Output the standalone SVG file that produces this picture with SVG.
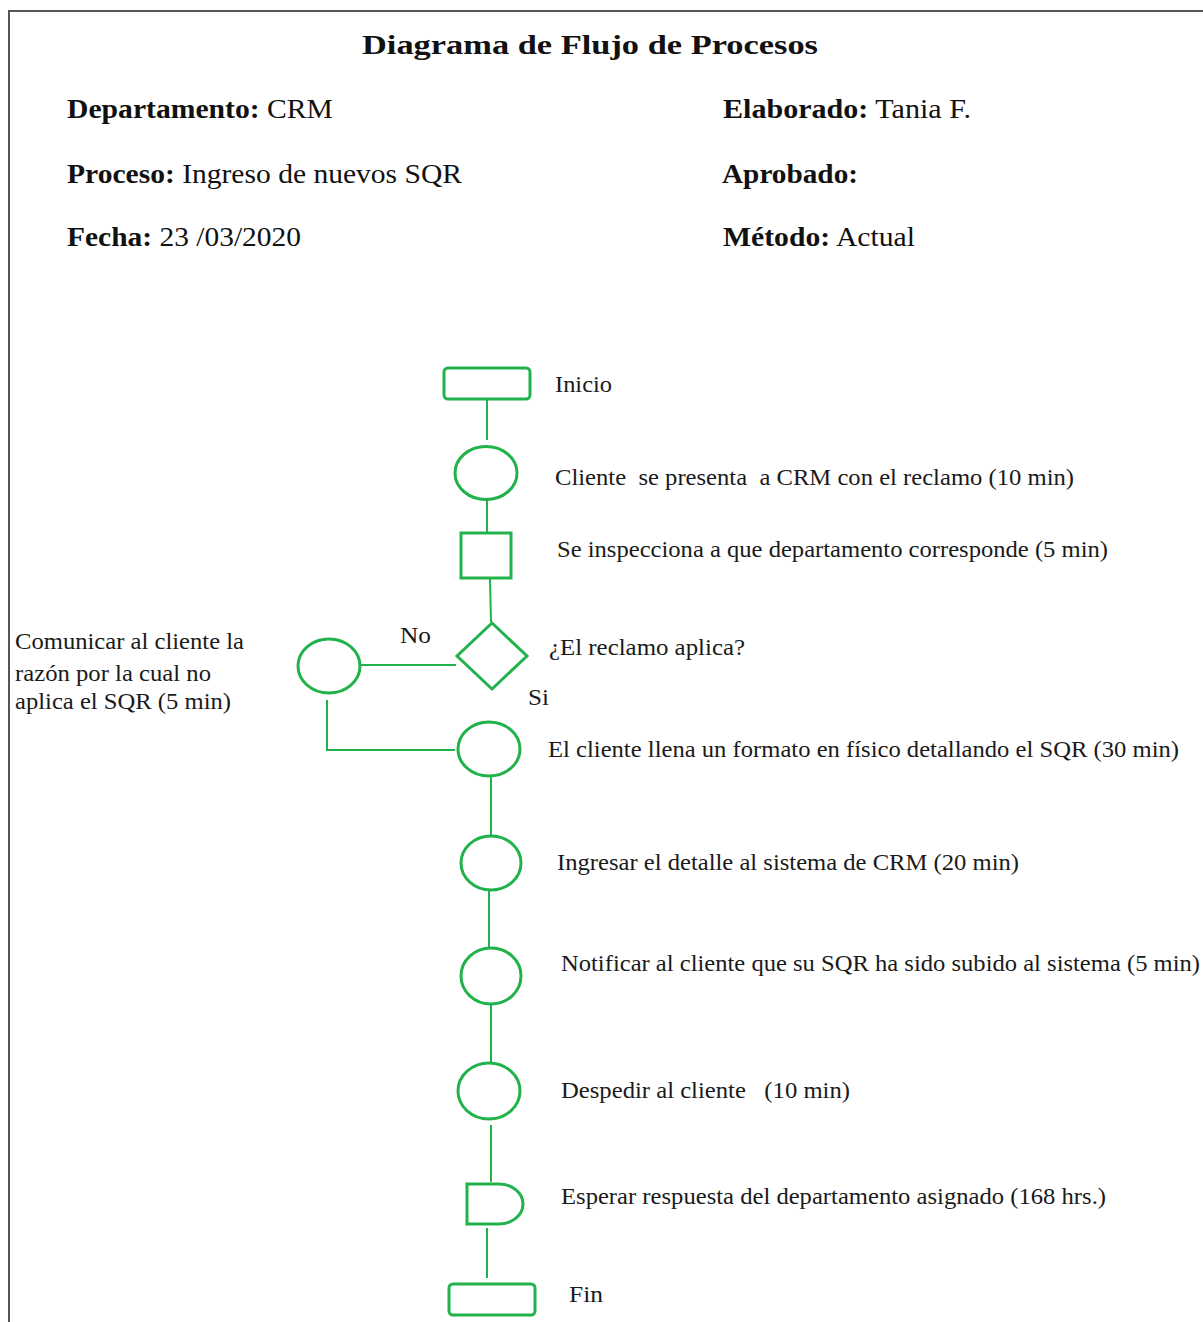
<svg xmlns="http://www.w3.org/2000/svg" width="1203" height="1322" viewBox="0 0 1203 1322" font-family="Liberation Serif">
<style>
.s{fill:none;stroke:#22b24c;stroke-width:3}
.c{fill:none;stroke:#22b24c;stroke-width:2}
.t{font-size:23px;fill:#1a1a1a}
.h{font-size:28px;fill:#111}
.b{font-weight:bold}
</style>
<rect width="1203" height="1322" fill="#fff"/>
<g id="frame" fill="none" stroke="#555" stroke-width="2">
<path d="M9,1322 V11 H1203"/>
</g>
<g id="header">
<text class="h b" x="362" y="54" font-size="33" textLength="456" lengthAdjust="spacingAndGlyphs">Diagrama de Flujo de Procesos</text>
<text class="h" x="67" y="118" textLength="266" lengthAdjust="spacingAndGlyphs"><tspan class="b">Departamento:</tspan> CRM</text>
<text class="h" x="67" y="183" textLength="395" lengthAdjust="spacingAndGlyphs"><tspan class="b">Proceso:</tspan> Ingreso de nuevos SQR</text>
<text class="h" x="67" y="246" textLength="234" lengthAdjust="spacingAndGlyphs"><tspan class="b">Fecha:</tspan> 23 /03/2020</text>
<text class="h" x="723" y="118" textLength="248" lengthAdjust="spacingAndGlyphs"><tspan class="b">Elaborado:</tspan> Tania F.</text>
<text class="h b" x="722" y="183" textLength="136" lengthAdjust="spacingAndGlyphs">Aprobado:</text>
<text class="h" x="723" y="246" textLength="192" lengthAdjust="spacingAndGlyphs"><tspan class="b">Método:</tspan> Actual</text>
</g>
<g id="connectors">
<path class="c" d="M487,399 V440"/>
<path class="c" d="M487,499 V532"/>
<path class="c" d="M490,578 L491,622"/>
<path class="c" d="M361,665 H456"/>
<path class="c" d="M327,700 V750 H455"/>
<path class="c" d="M491,777 V836"/>
<path class="c" d="M489,891 V947"/>
<path class="c" d="M491,1005 V1062"/>
<path class="c" d="M491,1125 V1182"/>
<path class="c" d="M487,1228 V1278"/>
</g>
<g id="n-inicio"><rect class="s" x="444" y="368" width="86" height="31" rx="4"/><text class="t" x="555" y="392" textLength="57" lengthAdjust="spacingAndGlyphs">Inicio</text></g>
<g id="n-cliente"><ellipse class="s" cx="486" cy="473" rx="31" ry="26.5"/><text class="t" x="555" y="485" textLength="519" lengthAdjust="spacingAndGlyphs" xml:space="preserve">Cliente  se presenta  a CRM con el reclamo (10 min)</text></g>
<g id="n-inspecciona"><rect class="s" x="461" y="533" width="50" height="45"/><text class="t" x="557" y="557" textLength="551" lengthAdjust="spacingAndGlyphs">Se inspecciona a que departamento corresponde (5 min)</text></g>
<g id="n-decision"><path class="s" d="M492,623 L527,656 L492,689 L457,656 Z"/><text class="t" x="549" y="655" textLength="196" lengthAdjust="spacingAndGlyphs">¿El reclamo aplica?</text>
<text class="t" x="400" y="643" textLength="31" lengthAdjust="spacingAndGlyphs">No</text>
<text class="t" x="528" y="705" textLength="21" lengthAdjust="spacingAndGlyphs">Si</text></g>
<g id="n-comunicar"><ellipse class="s" cx="329" cy="666" rx="31" ry="27"/>
<text class="t" x="15" y="649" textLength="229" lengthAdjust="spacingAndGlyphs">Comunicar al cliente la</text>
<text class="t" x="15" y="681" textLength="196" lengthAdjust="spacingAndGlyphs">razón por la cual no</text>
<text class="t" x="15" y="709" textLength="216" lengthAdjust="spacingAndGlyphs">aplica el SQR (5 min)</text></g>
<g id="n-llena"><ellipse class="s" cx="489" cy="749" rx="31" ry="27"/><text class="t" x="548" y="757" textLength="631" lengthAdjust="spacingAndGlyphs">El cliente llena un formato en físico detallando el SQR (30 min)</text></g>
<g id="n-ingresar"><ellipse class="s" cx="491" cy="863" rx="30" ry="27"/><text class="t" x="557" y="870" textLength="462" lengthAdjust="spacingAndGlyphs">Ingresar el detalle al sistema de CRM (20 min)</text></g>
<g id="n-notificar"><ellipse class="s" cx="491" cy="976" rx="30" ry="28"/><text class="t" x="561" y="971" textLength="639" lengthAdjust="spacingAndGlyphs">Notificar al cliente que su SQR ha sido subido al sistema (5 min)</text></g>
<g id="n-despedir"><ellipse class="s" cx="489" cy="1091" rx="31" ry="28"/><text class="t" x="561" y="1098" textLength="289" lengthAdjust="spacingAndGlyphs" xml:space="preserve">Despedir al cliente   (10 min)</text></g>
<g id="n-esperar"><path class="s" d="M467,1184 H499 A24,20 0 0 1 499,1224 H467 Z"/><text class="t" x="561" y="1204" textLength="545" lengthAdjust="spacingAndGlyphs">Esperar respuesta del departamento asignado (168 hrs.)</text></g>
<g id="n-fin"><rect class="s" x="449" y="1284" width="86" height="31" rx="4"/><text class="t" x="569" y="1302" textLength="34" lengthAdjust="spacingAndGlyphs">Fin</text></g>
</svg>
